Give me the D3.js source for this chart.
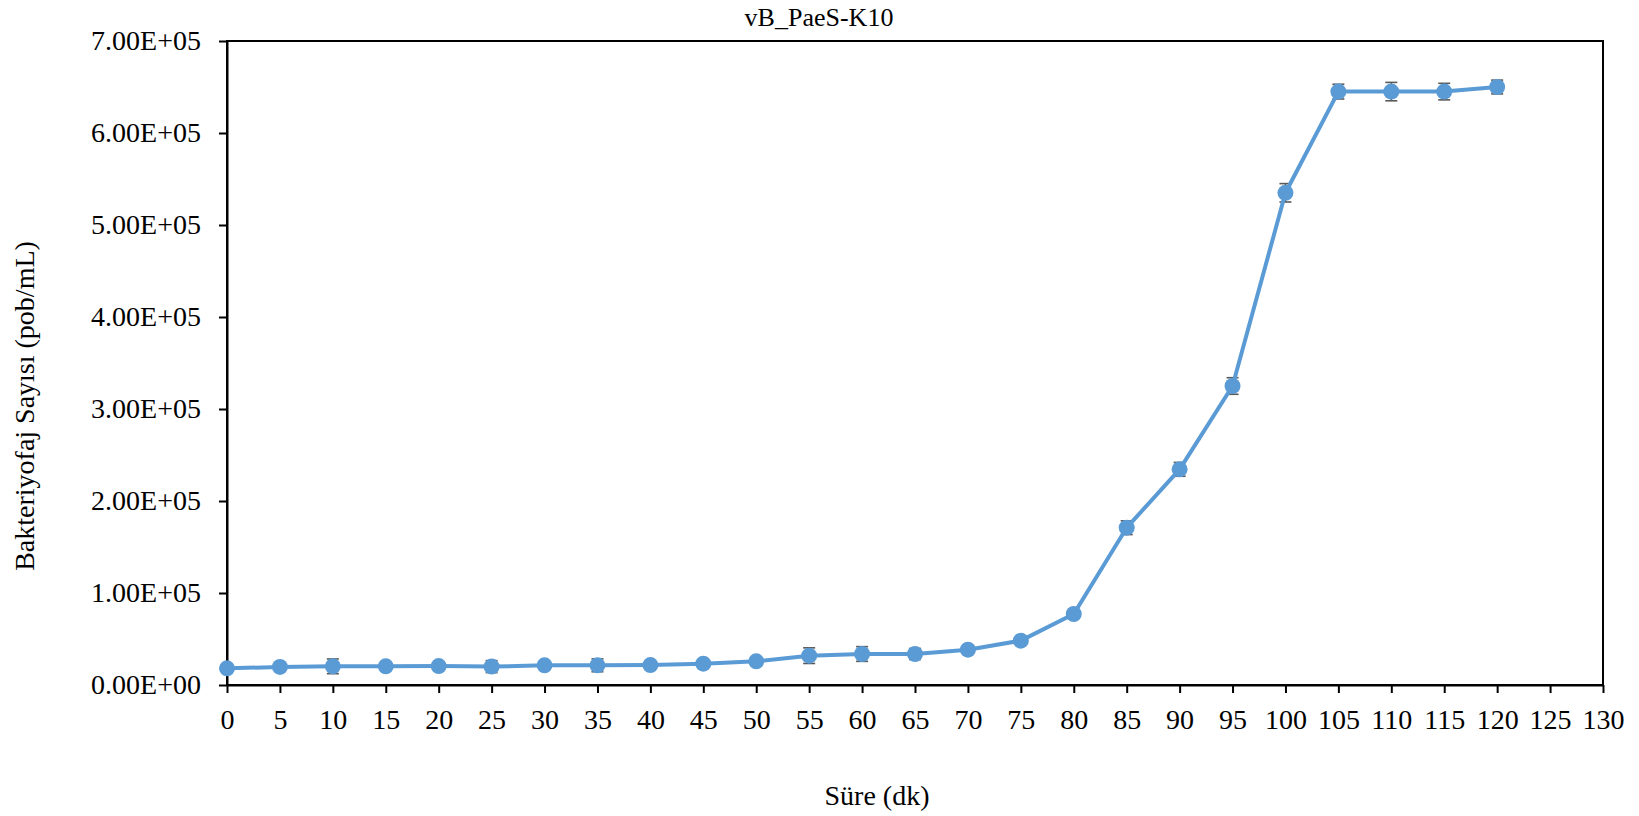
<!DOCTYPE html>
<html>
<head>
<meta charset="utf-8">
<script src="https://cdn.jsdelivr.net/npm/d3@7"></script>
<style>
  body { margin: 0; background: #fff; }
  svg text { font-family: "Liberation Serif", "Times New Roman", serif; fill: #000; }
</style>
</head>
<body>
<div id="chart"></div>
<script>
const title = 'vB_PaeS-K10';
const xLabel = 'Süre (dk)';
const yLabel = 'Bakteriyofaj Sayısı (pob/mL)';

// time in minutes
const minutes = [0, 5, 10, 15, 20, 25, 30, 35, 40, 45, 50, 55, 60, 65, 70, 75, 80, 85, 90, 95, 100, 105, 110, 115, 120];
// phage count (pfu/mL)
const counts = [18100, 19600, 20300, 20300, 20600, 20000, 21400, 21400, 21700, 23200, 25700, 31900, 33700, 33700, 38400,
                48200, 77200, 171000, 234400, 325000, 535000, 645000, 645000, 645000, 650000];
// standard deviation
const errors = [2000, 2000, 8000, 2500, 2500, 6500, 2500, 7000, 2500, 2500, 3000, 8500, 8000, 6000, 3000,
                3000, 4000, 7500, 7500, 9000, 10000, 8000, 10000, 9000, 7500];

const xTicks = d3.range(0, 131, 5);
const yTicks = d3.range(0, 700001, 100000);

const W = 1639;
const H = 816;
const margin = {top: 41, right: 36, bottom: 131, left: 227};
const w = W - margin.left - margin.right;
const h = H - margin.top - margin.bottom;
const lineColor = '#5b9bd5';
const errColor = '#595959';

const data = minutes.map((m, i) => ({x: m, y: counts[i], e: errors[i]}));

function sciFormat(v) {
  let [m, e] = v.toExponential(2).split('e');
  let sign = e[0] === '-' ? '-' : '+';
  let digits = e.replace(/[+-]/, '').padStart(2, '0');
  return `${m}E${sign}${digits}`;
}

let svg = d3.select('#chart')
  .append('svg')
  .attr('width', W)
  .attr('height', H);

let g = svg.append('g')
  .attr('transform', `translate(${margin.left}, ${margin.top})`);

let xScale = d3.scaleLinear().domain([0, 130]).range([0, w]);
let yScale = d3.scaleLinear().domain([0, 700000]).range([h, 0]);

// frame
g.append('rect')
  .attr('x', 0).attr('y', 0)
  .attr('width', w).attr('height', h)
  .attr('fill', 'none')
  .attr('stroke', '#000')
  .attr('stroke-width', 2);

let xAxis = g.append('g')
  .attr('transform', `translate(0, ${h})`)
  .call(d3.axisBottom(xScale).tickValues(xTicks).tickSize(8).tickSizeOuter(0).tickPadding(16).tickFormat(d3.format('d')));

let yAxis = g.append('g')
  .call(d3.axisLeft(yScale).tickValues(yTicks).tickSize(8).tickSizeOuter(0).tickPadding(18).tickFormat(sciFormat));

[xAxis, yAxis].forEach(a => {
  a.select('.domain').attr('stroke', '#000').attr('stroke-width', 2);
  a.selectAll('.tick line').attr('stroke', '#000').attr('stroke-width', 2);
  a.selectAll('.tick text').attr('font-size', 28).attr('font-family', '"Liberation Serif", "Times New Roman", serif').attr('fill', '#000');
});

// error bars
let errs = g.append('g').selectAll('g.err')
  .data(data)
  .enter()
  .append('g')
  .attr('class', 'err')
  .attr('stroke', errColor)
  .attr('stroke-width', 1.6);

errs.append('line')
  .attr('x1', d => xScale(d.x)).attr('x2', d => xScale(d.x))
  .attr('y1', d => yScale(d.y - d.e)).attr('y2', d => yScale(d.y + d.e));
errs.append('line')
  .attr('x1', d => xScale(d.x) - 6).attr('x2', d => xScale(d.x) + 6)
  .attr('y1', d => yScale(d.y + d.e)).attr('y2', d => yScale(d.y + d.e));
errs.append('line')
  .attr('x1', d => xScale(d.x) - 6).attr('x2', d => xScale(d.x) + 6)
  .attr('y1', d => yScale(d.y - d.e)).attr('y2', d => yScale(d.y - d.e));

// line
let line = d3.line().x(d => xScale(d.x)).y(d => yScale(d.y));
g.append('path')
  .datum(data)
  .attr('d', line)
  .attr('fill', 'none')
  .attr('stroke', lineColor)
  .attr('stroke-width', 4)
  .attr('stroke-linejoin', 'round');

// markers
g.selectAll('circle.pt')
  .data(data)
  .enter()
  .append('circle')
  .attr('class', 'pt')
  .attr('cx', d => xScale(d.x))
  .attr('cy', d => yScale(d.y))
  .attr('r', 8)
  .attr('fill', lineColor);

// titles
svg.append('text')
  .attr('x', 819).attr('y', 26)
  .attr('text-anchor', 'middle')
  .attr('font-size', 26)
  .text(title);

svg.append('text')
  .attr('x', 877).attr('y', 805)
  .attr('text-anchor', 'middle')
  .attr('font-size', 28)
  .text(xLabel);

svg.append('text')
  .attr('transform', `translate(34, 406) rotate(-90)`)
  .attr('text-anchor', 'middle')
  .attr('font-size', 28)
  .text(yLabel);
</script>
</body>
</html>
